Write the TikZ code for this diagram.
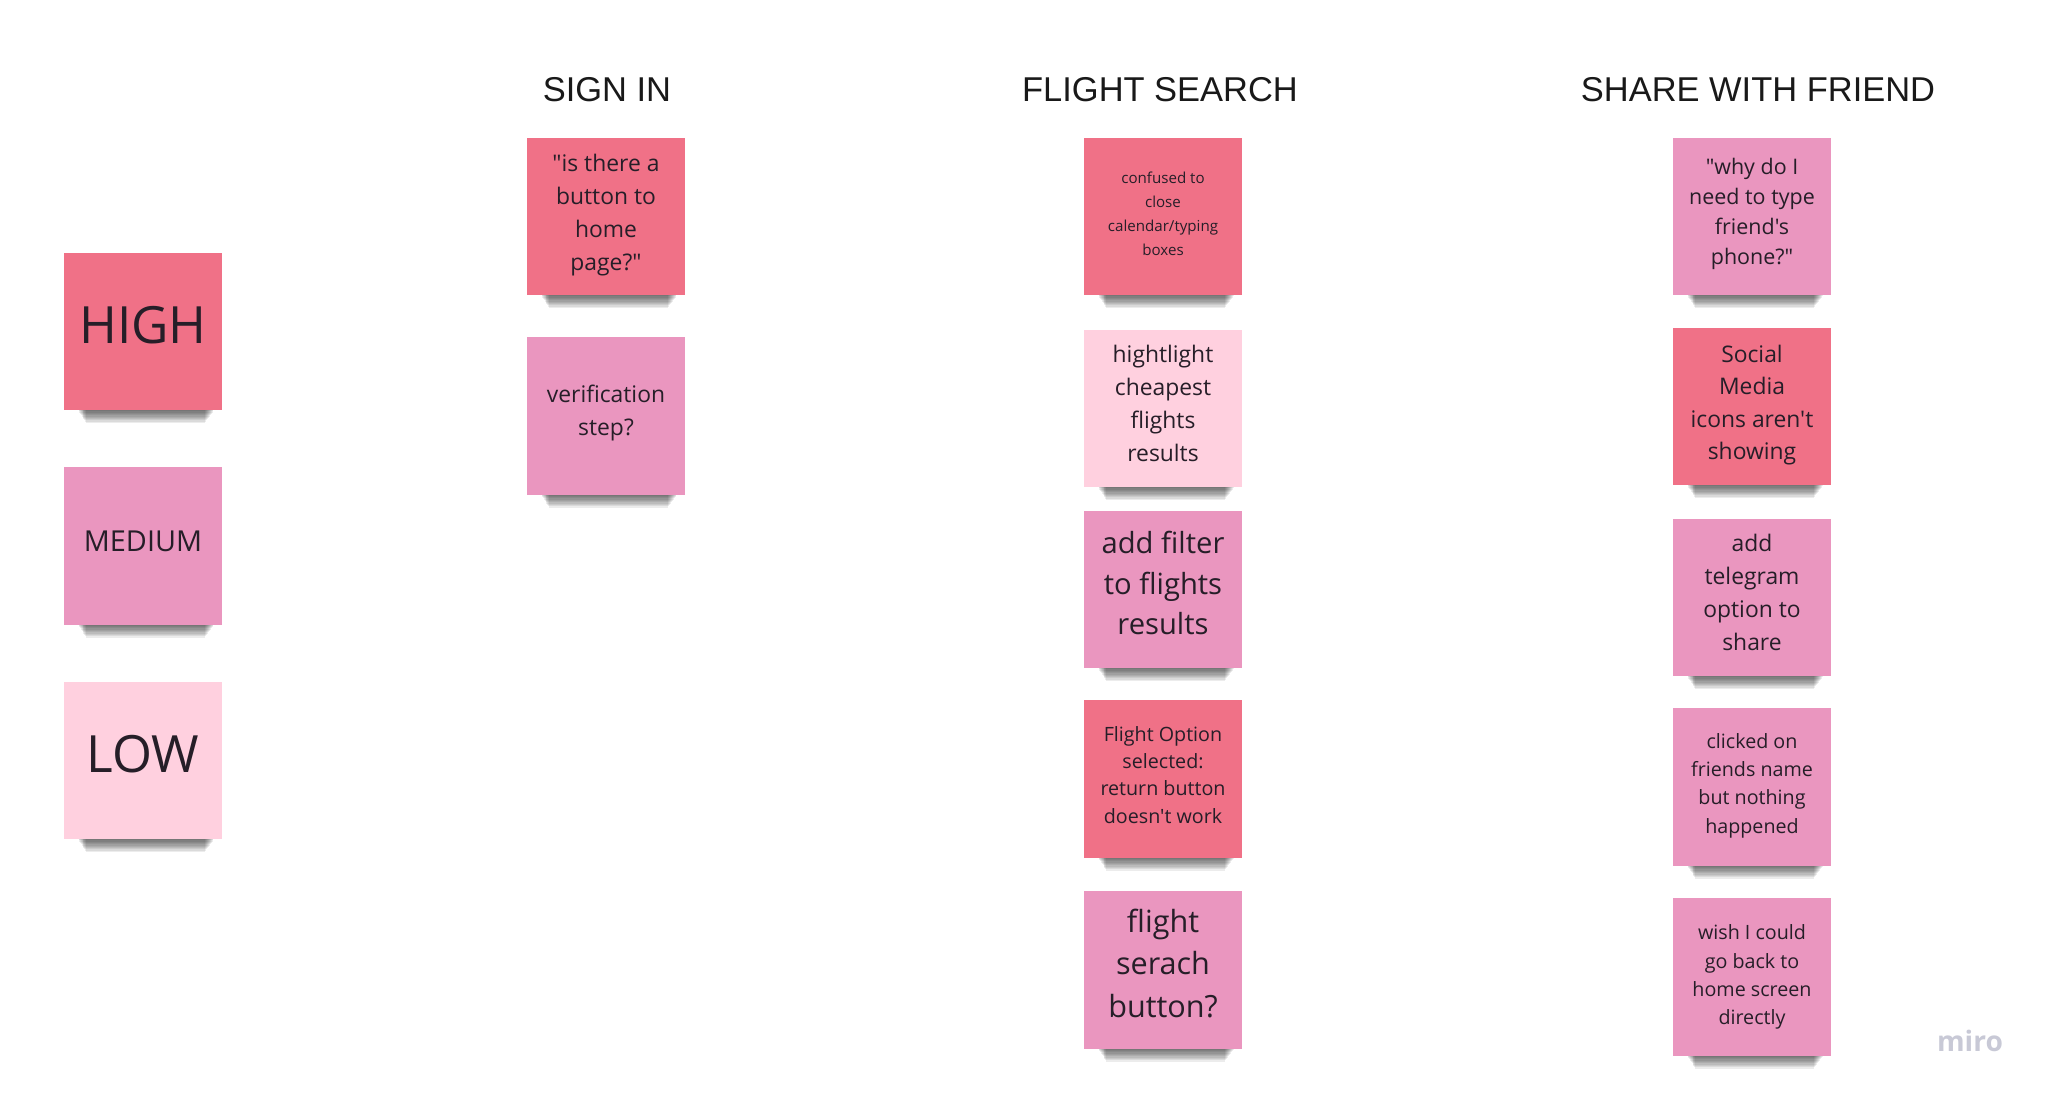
\documentclass[tikz,border=0pt]{standalone}
\usepackage{fontspec}
\usepackage{tikz}
\usetikzlibrary{shadows}
\newfontfamily\notefont{Open Sans}
\newfontfamily\headfont{Liberation Sans}
\definecolor{high}{RGB}{240,113,135}
\definecolor{medium}{RGB}{234,150,191}
\definecolor{low}{RGB}{255,208,223}
\definecolor{ink}{RGB}{38,30,40}
\definecolor{logo}{RGB}{200,201,214}

\begin{document}
\begin{tikzpicture}[x=0.01cm, y=-0.01cm,
drop/.style={general shadow={fill=black, opacity=.075, shadow xshift=0.035cm, #1}},
note/.style={rectangle, minimum width=1.57cm, minimum height=1.57cm, inner sep=0pt,
  drop={shadow yshift=-0.419cm, shadow scale=.760},
  drop={shadow yshift=-0.385cm, shadow scale=.771},
  drop={shadow yshift=-0.352cm, shadow scale=.782},
  drop={shadow yshift=-0.320cm, shadow scale=.793},
  drop={shadow yshift=-0.288cm, shadow scale=.804},
  drop={shadow yshift=-0.258cm, shadow scale=.815},
  drop={shadow yshift=-0.228cm, shadow scale=.826},
  drop={shadow yshift=-0.200cm, shadow scale=.837},
  drop={shadow yshift=-0.171cm, shadow scale=.848},
  drop={shadow yshift=-0.144cm, shadow scale=.859}},
high/.style={note, fill=high},
medium/.style={note, fill=medium},
low/.style={note, fill=low},
memo/.style={align=center, text=ink, inner sep=0pt},
head/.style={font=\headfont\fontsize{9.8pt}{12pt}\selectfont, text=black!90, inner sep=0pt},
sz/.style 2 args={memo, font=\notefont\fontsize{#1pt}{#2pt}\selectfont}]
\useasboundingbox (0,0) rectangle (2051,1097);

% priority legend
\node [high] (lhigh) at (143,331.5) {};
\node [medium] (lmedium) at (143,546) {};
\node [low] (llow) at (143,760.5) {};
\node [sz={14.6}{18}] (lhightxt) at ([yshift=0.065cm]lhigh) {HIGH};
\node [sz={8.2}{10}] (lmediumtxt) at ([yshift=0.05cm]lmedium) {MEDIUM};
\node [sz={14.6}{18}] (llowtxt) at ([yshift=0.065cm]llow) {LOW};

% column titles
\node [head] (tsign) at (607,90) {SIGN IN};
\node [head] (tflight) at (1160,90) {FLIGHT SEARCH};
\node [head] (tshare) at (1758,90) {SHARE WITH FRIEND};

% sign in
\node [high] (s1) at (606,216.5) {};
\node [medium] (s2) at (606,416) {};
\node [sz={6.5}{9.4}] (s1txt) at ([yshift=0.013cm]s1) {"is there a\\button to\\home\\page?"};
\node [sz={6.5}{9.4}] (s2txt) at ([yshift=0.026cm]s2) {verification\\step?};

% flight search
\node [high] (f1) at (1163,216.5) {};
\node [low] (f2) at (1163,408.5) {};
\node [medium] (f3) at (1163,589.5) {};
\node [high] (f4) at (1163,779) {};
\node [medium] (f5) at (1163,970) {};
\node [sz={4.3}{6.8}] (f1txt) at ([yshift=0.03cm]f1) {confused to\\close\\calendar/typing\\boxes};
\node [sz={6.5}{9.4}] (f2txt) at ([yshift=0.05cm]f2) {hightlight\\cheapest\\flights\\results};
\node [sz={8.3}{11.4}] (f3txt) at ([yshift=0.065cm]f3) {add filter\\to flights\\results};
\node [sz={5.6}{7.7}] (f4txt) at ([yshift=0.04cm]f4) {Flight Option\\selected:\\return button\\doesn't work};
\node [sz={8.7}{12.2}] (f5txt) at ([yshift=0.065cm]f5) {flight\\serach\\button?};

% share with friend
\node [medium] (h1) at (1752,216.5) {};
\node [high] (h2) at (1752,406.5) {};
\node [medium] (h3) at (1752,597.5) {};
\node [medium] (h4) at (1752,787) {};
\node [medium] (h5) at (1752,977) {};
\node [sz={6.1}{8.5}] (h1txt) at ([yshift=0.026cm]h1) {"why do I\\need to type\\friend's\\phone?"};
\node [sz={6.5}{9.2}] (h2txt) at ([yshift=0.013cm]h2) {Social\\Media\\icons aren't\\showing};
\node [sz={6.5}{9.4}] (h3txt) at ([yshift=0.05cm]h3) {add\\telegram\\option to\\share};
\node [sz={5.6}{8}] (h4txt) at ([yshift=0.013cm]h4) {clicked on\\friends name\\but nothing\\happened};
\node [sz={5.6}{8}] (h5txt) at (h5) {wish I could\\go back to\\home screen\\directly};

\node [text=logo, font=\notefont\bfseries\fontsize{8pt}{10pt}\selectfont] (logo) at (1970,1041) {miro};
\end{tikzpicture}
\end{document}
